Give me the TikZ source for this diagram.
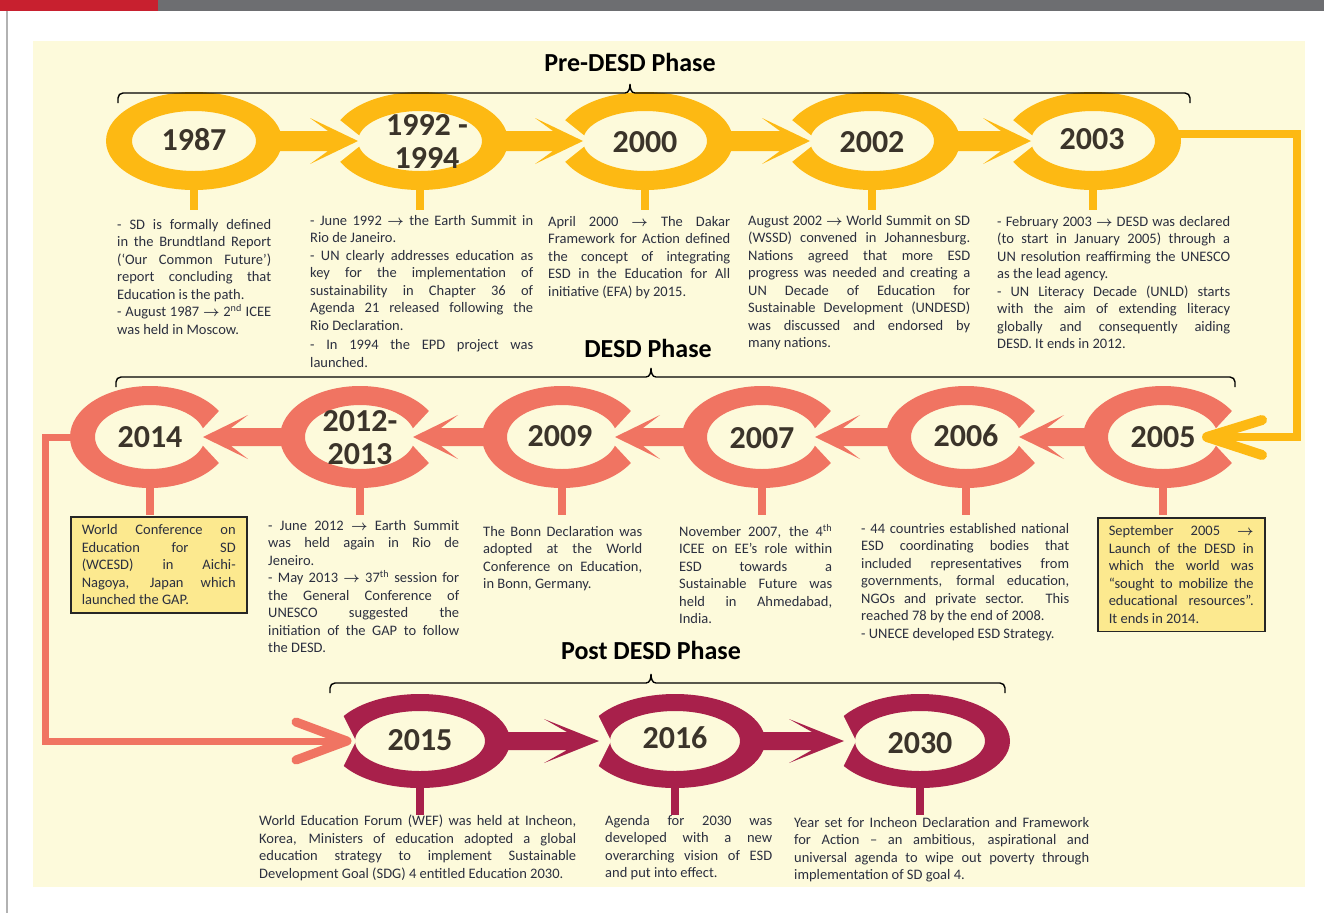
\documentclass[tikz,border=0pt]{standalone}
\usepackage{fontspec}
\setmainfont{Carlito}
\usetikzlibrary{calc}

\definecolor{bgyel}{HTML}{FDFADB}
\definecolor{gold}{HTML}{FDB913}
\definecolor{salmon}{HTML}{F07462}
\definecolor{wine}{HTML}{A8204B}
\definecolor{boxfill}{HTML}{FCE98F}
\definecolor{yeartxt}{HTML}{3B342A}
\definecolor{bodytxt}{HTML}{2B2F3F}
\definecolor{barred}{HTML}{C8202F}
\definecolor{bargray}{HTML}{6D6E71}

\newcommand{\tor}{{\boldmath$\rightarrow$}}
% left end, tip, right end, foot height
\newcommand{\phasebrace}[4]{%
  \draw[span] (#1,#4) -- (#1,#4-5) to[out=90,in=180] (#1+5,#4-10) -- (#2-5,#4-10)
    to[out=0,in=-90] (#2,#4-19) to[out=-90,in=180] (#2+5,#4-10) -- (#3-5,#4-10)
    to[out=0,in=90] (#3,#4-5) -- (#3,#4);}
\setlength{\parindent}{0pt}
\tolerance=10000
\hbadness=10000

\tikzset{
  year/.style={font=\fontsize{32}{33}\selectfont\bfseries, text=yeartxt, align=center, inner sep=0pt},
  phase/.style={font=\fontsize{26}{26}\selectfont\bfseries, inner sep=0pt},
  note/.style={font=\fontsize{14.5}{17.5}\selectfont, text=bodytxt, align=justify,
    anchor=north west, inner sep=0pt},
  notebox/.style={note, fill=boxfill, draw=black!85, line width=1.5pt, inner xsep=11pt, inner ysep=8pt},
  span/.style={line width=1.4pt},
}

\begin{document}
\begin{tikzpicture}[x=1pt,y=-1pt]
  \useasboundingbox (0,0) rectangle (1324,913);
  % page frame
  \fill[barred] (0,0) rectangle (158,11);
  \fill[bargray] (158,0) rectangle (1324,11);
  \draw[gray!60, line width=1.5pt] (7,11) -- (7,913);
  \fill[bgyel] (33,41) rectangle (1305,887);

  % ring centres
  \coordinate (r1a) at (194,141);
  \coordinate (r1b) at (420,141);
  \coordinate (r1c) at (645,141);
  \coordinate (r1d) at (872,141);
  \coordinate (r1e) at (1093,141);
  \coordinate (r2a) at (150,437);
  \coordinate (r2b) at (360,437);
  \coordinate (r2c) at (562,437);
  \coordinate (r2d) at (762,437);
  \coordinate (r2e) at (966,437);
  \coordinate (r2f) at (1163,437);
  \coordinate (r3a) at (420,741);
  \coordinate (r3b) at (675,741);
  \coordinate (r3c) at (920,741);

  % rings
  \foreach \p in {r1a,r1b,r1c,r1d,r1e}
    \fill[gold, even odd rule] (\p) ellipse [x radius=88, y radius=49] (\p) ellipse [x radius=62, y radius=30];
  \foreach \p in {r2a,r2b,r2c,r2d,r2e,r2f}
    \fill[salmon, even odd rule] (\p) ellipse [x radius=80, y radius=51] (\p) ellipse [x radius=55, y radius=32];
  \foreach \p in {r3a,r3b,r3c}
    \fill[wine, even odd rule] (\p) ellipse [x radius=90, y radius=47] (\p) ellipse [x radius=65, y radius=30];

  % notches where the arrows go in
  \foreach \p in {r1b,r1c,r1d,r1e}
    \fill[bgyel] ($(\p)+(-54,0)$) -- ($(\p)+(-124,-56)$) -- ($(\p)+(-124,56)$) -- cycle;
  \foreach \p in {r2a,r2b,r2c,r2d,r2e,r2f}
    \fill[bgyel] ($(\p)+(45,0)$) -- ($(\p)+(110,-70)$) -- ($(\p)+(110,70)$) -- cycle;
  \foreach \p in {r3a,r3b,r3c}
    \fill[bgyel] ($(\p)+(-64,0)$) -- ($(\p)+(-100,-72)$) -- ($(\p)+(-100,72)$) -- cycle;

  % block arrows
  \foreach \a/\b in {r1a/r1b,r1b/r1c,r1c/r1d,r1d/r1e}
    \fill[gold] ($(\a)+(84,-10)$) -- ($(\b)+(-92,-10)$) -- ($(\b)+(-110,-23)$) -- ($(\b)+(-62,0)$)
      -- ($(\b)+(-110,23)$) -- ($(\b)+(-92,10)$) -- ($(\a)+(84,10)$) -- cycle;
  \foreach \a/\b in {r2f/r2e,r2e/r2d,r2d/r2c,r2c/r2b,r2b/r2a}
    \fill[salmon] ($(\a)+(-76,-9)$) -- ($(\b)+(81,-9)$) -- ($(\b)+(98,-22)$) -- ($(\b)+(53,0)$)
      -- ($(\b)+(98,22)$) -- ($(\b)+(81,9)$) -- ($(\a)+(-76,9)$) -- cycle;
  \foreach \a/\b in {r3a/r3b,r3b/r3c}
    \fill[wine] ($(\a)+(86,-9)$) -- ($(\b)+(-108,-9)$) -- ($(\b)+(-131,-22)$) -- ($(\b)+(-76,0)$)
      -- ($(\b)+(-131,22)$) -- ($(\b)+(-108,9)$) -- ($(\a)+(86,9)$) -- cycle;

  % stems
  \foreach \p in {r1a,r1b,r1c,r1d,r1e}
    \fill[gold] ($(\p)+(-4,44)$) rectangle ($(\p)+(4,69)$);
  \foreach \p in {r2a,r2b,r2c,r2d,r2e,r2f}
    \fill[salmon] ($(\p)+(-4,46)$) rectangle ($(\p)+(4,78)$);
  \foreach \p in {r3a,r3b,r3c}
    \fill[wine] ($(\p)+(-4,42)$) rectangle ($(\p)+(4,74)$);

  % 2003 -> 2005
  \coordinate (g0) at (1176,134);
  \coordinate (g1) at (1297,134);
  \coordinate (g2) at (1297,437);
  \coordinate (g3) at (1207,437);
  \draw[gold, line width=8pt] (g0) -- (g1) -- (g2) -- (g3);
  \draw[gold, line width=10pt, line cap=round, line join=round] (1262,420) -- (g3) -- (1262,455);

  % 2014 -> 2015
  \coordinate (s0) at (76,437);
  \coordinate (s1) at (45,437);
  \coordinate (s2) at (45,741);
  \coordinate (s3) at (347,741);
  \draw[salmon, line width=7pt] (s0) -- (s1) -- (s2) -- (s3);
  \draw[salmon, line width=9pt, line cap=round, line join=round] (296,722) -- (s3) -- (296,760);

  % years
  \node[year] (y1987) at (194,140) {1987};
  \node[year] (y1992) at (427,142) {1992 -\\1994};
  \node[year] (y2000) at (645,142) {2000};
  \node[year] (y2002) at (872,142) {2002};
  \node[year] (y2003) at (1092,139) {2003};
  \node[year] (y2014) at (150,437) {2014};
  \node[year] (y2012) at (360,438) {2012-\\2013};
  \node[year] (y2009) at (560,436) {2009};
  \node[year] (y2007) at (762,438) {2007};
  \node[year] (y2006) at (966,436) {2006};
  \node[year] (y2005) at (1163,437) {2005};
  \node[year] (y2015) at (420,740) {2015};
  \node[year] (y2016) at (675,738) {2016};
  \node[year] (y2030) at (920,743) {2030};

  % phases
  \node[phase] (pre) at (630,62) {Pre-DESD Phase};
  \phasebrace{118}{630}{1190}{103}
  \node[phase] (desd) at (648,348) {DESD Phase};
  \phasebrace{116}{651}{1235}{387}
  \node[phase] (post) at (651,650) {Post DESD Phase};
  \phasebrace{330}{651}{1005}{693}

  % notes, first row
  \node[note, text width=154pt] (n1987) at (117,219)
    {- SD is formally defined\linebreak in the Brundtland Report\linebreak (‘Our Common Future’)\linebreak
     report concluding that\linebreak Education is the path.\par
     - August 1987 \tor{} 2\textsuperscript{nd} ICEE\linebreak was held in Moscow.};
  \node[note, text width=223pt] (n1992) at (310,215)
    {- June 1992 \tor{} the Earth Summit in\linebreak Rio de Janeiro.\par
     - UN clearly addresses education as\linebreak key for the implementation of\linebreak
     sustainability in Chapter 36 of\linebreak Agenda 21 released following the\linebreak Rio Declaration.\par
     \vspace{2pt}- In 1994 the EPD project was\linebreak launched.};
  \node[note, text width=182pt] (n2000) at (548,216)
    {April 2000 \tor{} The Dakar\linebreak Framework for Action defined\linebreak
     the concept of integrating\linebreak ESD in the Education for All\linebreak initiative (EFA) by 2015.};
  \node[note, text width=222pt] (n2002) at (748,215)
    {August 2002 \tor{} World Summit on SD\linebreak (WSSD) convened in Johannesburg.\linebreak
     Nations agreed that more ESD\linebreak progress was needed and creating a\linebreak
     UN Decade of Education for\linebreak Sustainable Development (UNDESD)\linebreak
     was discussed and endorsed by\linebreak many nations.};
  \node[note, text width=233pt] (n2003) at (997,216)
    {- February 2003 \tor{} DESD was declared\linebreak (to start in January 2005) through a\linebreak
     UN resolution reaffirming the UNESCO\linebreak as the lead agency.\par
     - UN Literacy Decade (UNLD) starts\linebreak with the aim of extending literacy\linebreak
     globally and consequently aiding\linebreak DESD. It ends in 2012.};

  % notes, second row
  \node[notebox, text width=154pt] (n2014) at (70,516)
    {World Conference on\linebreak Education for SD\linebreak (WCESD) in Aichi-\linebreak
     Nagoya, Japan which\linebreak launched the GAP.};
  \node[note, text width=191pt] (n2012) at (268,520)
    {- June 2012 \tor{} Earth Summit\linebreak was held again in Rio de\linebreak Jeneiro.\par
     - May 2013 \tor{} 37\textsuperscript{th} session for\linebreak the General Conference of\linebreak
     UNESCO suggested the\linebreak initiation of the GAP to follow\linebreak the DESD.};
  \node[note, text width=159pt] (n2009) at (483,526)
    {The Bonn Declaration was\linebreak adopted at the World\linebreak
     Conference on Education,\linebreak in Bonn, Germany.};
  \node[note, text width=153pt] (n2007) at (679,524)
    {November 2007, the 4\textsuperscript{th}\linebreak ICEE on EE’s role within\linebreak
     ESD towards a\linebreak Sustainable Future was\linebreak held in Ahmedabad,\linebreak India.};
  \node[note, text width=208pt] (n2006) at (861,523)
    {- 44 countries established national\linebreak ESD coordinating bodies that\linebreak
     included representatives from\linebreak governments, formal education,\linebreak
     NGOs and private sector. This\linebreak reached 78 by the end of 2008.\par
     - UNECE developed ESD Strategy.};
  \node[notebox, text width=145pt] (n2005) at (1097,517)
    {September 2005 \tor\linebreak Launch of the DESD in\linebreak which the world was\linebreak
     “sought to mobilize the\linebreak educational resources”.\linebreak It ends in 2014.};

  % notes, third row
  \node[note, text width=317pt] (n2015) at (259,815)
    {World Education Forum (WEF) was held at Incheon,\linebreak
     Korea, Ministers of education adopted a global\linebreak
     education strategy to implement Sustainable\linebreak
     Development Goal (SDG) 4 entitled Education 2030.};
  \node[note, text width=167pt] (n2016) at (605,815)
    {Agenda for 2030 was\linebreak developed with a new\linebreak
     overarching vision of ESD\linebreak and put into effect.};
  \node[note, text width=295pt] (n2030) at (794,817)
    {Year set for Incheon Declaration and Framework\linebreak
     for Action – an ambitious, aspirational and\linebreak
     universal agenda to wipe out poverty through\linebreak implementation of SD goal 4.};
\end{tikzpicture}
\end{document}
